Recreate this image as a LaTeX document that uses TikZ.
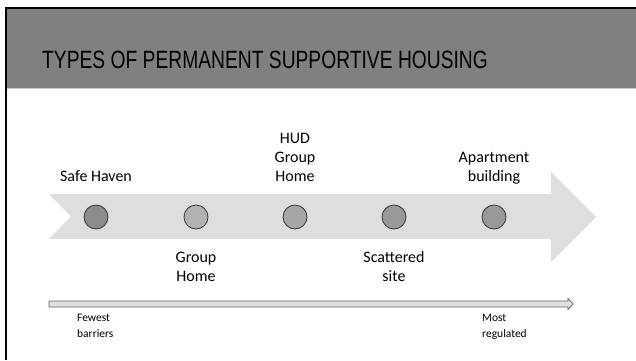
\documentclass[tikz,border=0pt]{standalone}
\usepackage{fontspec}
\setmainfont{Carlito}
\newfontfamily\titlefont[FakeStretch=0.77]{Liberation Sans}
\begin{document}
\begin{tikzpicture}[x=1pt,y=-1pt,
  dot/.style={circle,draw=black!80,line width=0.8pt,minimum size=24pt,inner sep=0pt},
  lbl/.style={font=\fontsize{16}{19}\selectfont,align=center,inner sep=0pt},
  small/.style={font=\fontsize{11.5}{16}\selectfont,align=left,inner sep=0pt,anchor=north west}]
\useasboundingbox (0,0) rectangle (636,360);
\fill[white] (0,0) rectangle (636,360);
% title band
\fill[black!50] (6,8) rectangle (636,88);
\draw[black!20,line width=1pt] (6,88.5) -- (636,88.5);
\draw[black,line width=2pt] (6,360) -- (6,8) -- (636,8);
\node[font=\titlefont\fontsize{25}{25}\selectfont,inner sep=0pt] (title) at (265,60) {TYPES OF PERMANENT SUPPORTIVE HOUSING};
% big arrow
\fill[black!13] (49,194) -- (551,194) -- (551,172) -- (596,217) -- (551,262) -- (551,239) -- (49,239) -- (71,216.5) -- cycle;
% dots
\node[dot,fill=black!45] (d1) at (96,217) {};
\node[dot,fill=black!30] (d2) at (196,217) {};
\node[dot,fill=black!35] (d3) at (295,217) {};
\node[dot,fill=black!40] (d4) at (394,217) {};
\node[dot,fill=black!40] (d5) at (494,217) {};
% labels
\node[lbl,anchor=base] (l1) at (96,181) {Safe Haven};
\node[lbl,anchor=base] (l3) at (295,181) {HUD\\Group\\Home};
\node[lbl,anchor=base] (l5) at (494,181) {Apartment\\building};
\node[lbl,anchor=base] (l2) at (196,281) {Group\\Home};
\node[lbl,anchor=base] (l4) at (394,281) {Scattered\\site};
% bottom scale arrow
\filldraw[fill=black!12,draw=black!60,line width=0.8pt] (49,301) -- (568,301) -- (568,298.5) -- (573,304) -- (568,309.5) -- (568,307) -- (49,307) -- cycle;
\node[small] (few) at (77,314) {Fewest\\barriers};
\node[small] (most) at (482,314) {Most\\regulated};
\end{tikzpicture}
\end{document}
